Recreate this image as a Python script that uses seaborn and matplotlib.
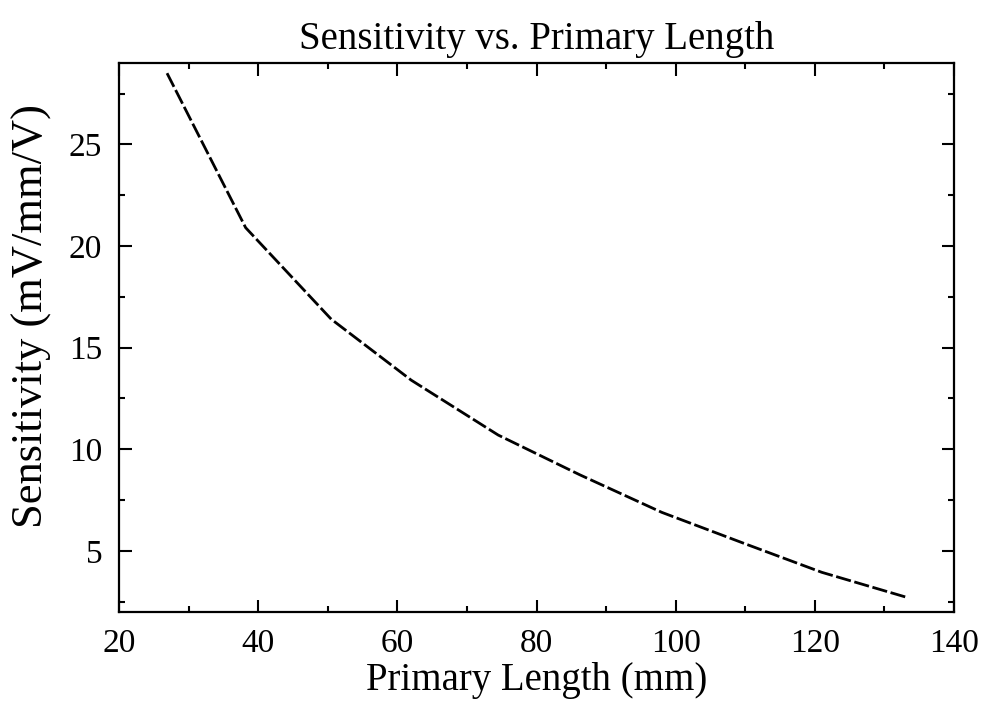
import pandas as pd
import seaborn as sns
import matplotlib.pyplot as plt
from matplotlib.ticker import MultipleLocator

# values
primary_length = [26.9, 38.2, 50.5, 62.0, 74.5, 86.2, 98.0, 110.0, 121.0, 133.4]
sensitivity = [28.5, 20.9, 16.4, 13.4, 10.7, 8.75, 6.9, 5.35, 3.95, 2.7]

df = pd.DataFrame({"Primary Length (mm)": primary_length,
                   "Sensitivity (mV/mm/V)": sensitivity})

sns.set_style("ticks")
plt.rcParams['font.family'] = ['Liberation Serif', 'DejaVu Serif']
plt.rcParams['text.color'] = 'black'
plt.rcParams['axes.labelcolor'] = 'black'

fig = plt.figure(figsize=(9.82, 7.13), dpi=100)
ax = fig.add_axes([0.1212, 0.1417, 0.8503, 0.7699])

sns.lineplot(data=df, x="Primary Length (mm)", y="Sensitivity (mV/mm/V)",
             ax=ax, color="black", linewidth=2.0, dashes=False)
ax.lines[0].set_dashes((5.5, 1.3))

ax.set_xlim(20, 140)
ax.set_ylim(2, 29)
ax.xaxis.set_major_locator(MultipleLocator(20))
ax.xaxis.set_minor_locator(MultipleLocator(10))
ax.yaxis.set_major_locator(MultipleLocator(5))
ax.yaxis.set_minor_locator(MultipleLocator(2.5))

ax.tick_params(which="both", direction="in", top=True, right=True,
               width=1.5, colors="black", labelsize=24, pad=12)
ax.tick_params(which="major", length=9)
ax.tick_params(which="minor", length=4.5)
for sp in ax.spines.values():
    sp.set_visible(True)
    sp.set_linewidth(1.6)
    sp.set_color("black")

ax.set_title("Sensitivity vs. Primary Length", fontsize=28, pad=10)
ax.set_xlabel("Primary Length (mm)", fontsize=28, labelpad=2)
ax.set_ylabel("Sensitivity (mV/mm/V)", fontsize=32)
ax.yaxis.set_label_coords(-0.08, 0.54)

fig.savefig("out.png", dpi=100)
